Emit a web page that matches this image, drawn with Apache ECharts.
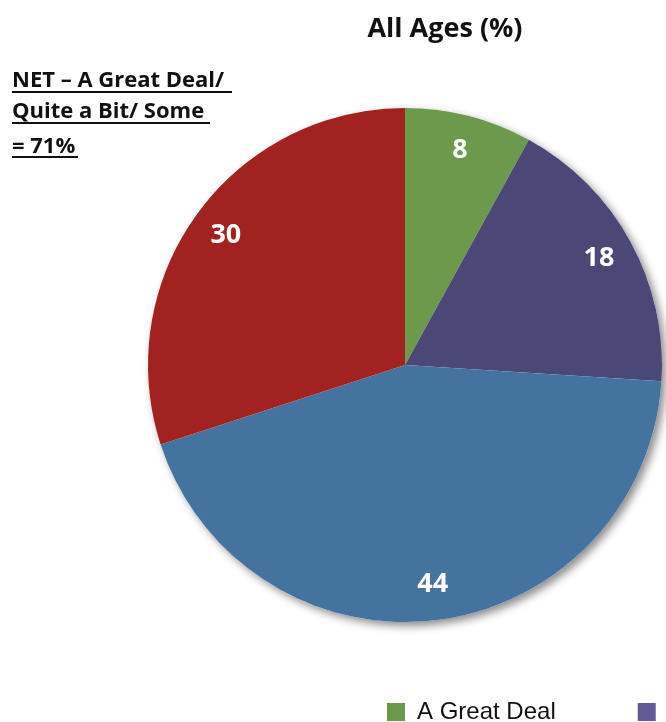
<!DOCTYPE html>
<html><head><meta charset="utf-8">
<script src="https://cdn.jsdelivr.net/npm/echarts@6/dist/echarts.min.js"></script>
<style>html,body{margin:0;padding:0;background:#fff}#c{width:666px;height:722px}</style>
</head><body><div id="c"></div>
<script>
const categories = ["A Great Deal", "Quite a Bit", "Some", "Not at All"];
const values = [8, 18, 44, 30];
const colors = ["#6A9A4A", "#4B4776", "#44739F", "#A2221F"];
const legendColors = ["#6A9A4A", "#635B98", "#44739F", "#A2221F"];
const titleText = "All Ages (%)";
const noteLines = ["NET \u2013 A Great Deal/", "Quite a Bit/ Some", "= 71%"];

const chart = echarts.init(document.getElementById('c'), null, {renderer: 'canvas'});
const center = [405, 365];
const R = 257;
const boldFam = '"Open Sans", Lato, sans-serif';
const data = categories.map((n, i) => ({name: n, value: values[i], itemStyle: {color: colors[i]}}));
const noteFont = 'bold 22px "Open Sans", sans-serif';
const noteMid = [81, 112, 147];
const underY = [91, 122, 156];
const underW = [220, 198, 66];
const graphics = [];
noteLines.forEach((t, i) => {
  graphics.push({type: 'text', x: 12, y: noteMid[i], style: {text: t, font: noteFont, fill: '#111', verticalAlign: 'middle'}});
  graphics.push({type: 'rect', x: 12, y: underY[i], shape: {width: underW[i], height: 2}, style: {fill: '#111'}});
});
chart.setOption({
  animation: false,
  title: {text: titleText, left: 440, top: 11, textAlign: 'center',
    textStyle: {fontFamily: boldFam, fontWeight: 'bold', fontSize: 27, color: '#111'}},
  legend: {data: categories.map((n, i) => ({name: n, itemStyle: {color: legendColors[i]}})),
    left: 382, top: 695, width: 3000, itemWidth: 18, itemHeight: 18, itemGap: 82, icon: 'rect',
    textStyle: {fontFamily: '"Liberation Sans", Arial, sans-serif', fontSize: 24, color: '#111', padding: [0, 0, 0, 7]}},
  graphic: graphics,
  series: [
    {type: 'pie', silent: true, center: center, radius: [0, R], startAngle: 90,
     data: [{name: '_bg', value: 1, itemStyle: {color: '#fff', shadowBlur: 8, shadowOffsetX: 4, shadowOffsetY: 4, shadowColor: 'rgba(0,0,0,0.45)'}}],
     label: {show: false}, labelLine: {show: false}},
    {type: 'pie', center: center, radius: [0, R], startAngle: 90, clockwise: true,
     data: data, label: {show: false}, labelLine: {show: false}},
    {type: 'pie', silent: true, center: center, radius: [R * 0.7, R], startAngle: 90, clockwise: true,
     data: categories.map((n, i) => ({name: n, value: values[i], itemStyle: {color: 'rgba(0,0,0,0)'}})),
     label: {show: true, position: 'inside', formatter: '{c}', color: '#fff', fontSize: 27, fontWeight: 'bold',
       fontFamily: boldFam},
     labelLine: {show: false}}
  ]
});
</script></body></html>
